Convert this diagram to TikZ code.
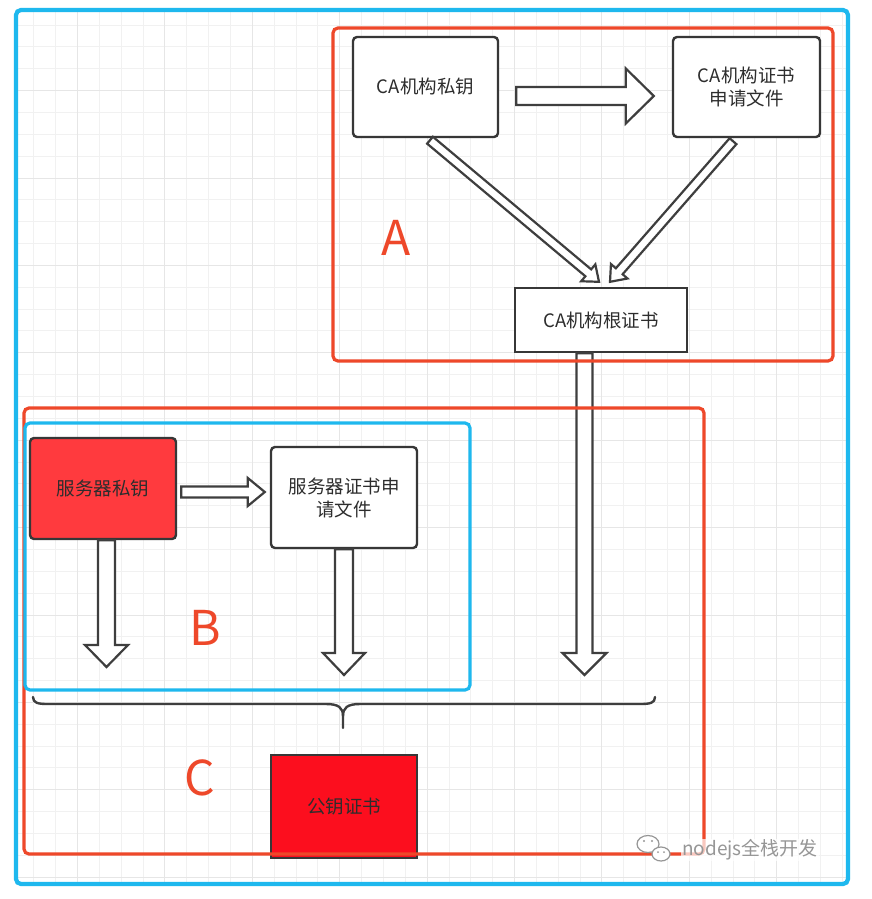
\documentclass[tikz,border=0pt]{standalone}
\usepackage{fontspec}
\setmainfont{Noto Sans CJK SC}
\usetikzlibrary{calc}

\definecolor{frameblue}{RGB}{30,184,238}
\definecolor{framered}{RGB}{238,72,42}
\definecolor{keyred}{RGB}{255,58,62}
\definecolor{certred}{RGB}{252,14,30}
\definecolor{boxline}{RGB}{55,55,55}
\definecolor{arrowgray}{RGB}{62,62,62}
\definecolor{textgray}{RGB}{45,45,45}
\definecolor{gridgray}{RGB}{241,241,241}
\definecolor{gridmajor}{RGB}{230,230,230}
\definecolor{wmgray}{RGB}{150,150,150}

% hollow block arrow: from, to, half shaft, half head, head length
\newcommand{\blockarrow}[5]{%
	\coordinate (hb) at ($(#2)!#5!(#1)$);
	\draw[hollow] ($(#1)!#3!90:(#2)$) -- ($(hb)!#3!-90:(#1)$) -- ($(hb)!#4!-90:(#1)$) -- (#2) -- ($(hb)!#4!90:(#1)$) -- ($(hb)!#3!90:(#1)$) -- ($(#1)!#3!-90:(#2)$) -- cycle;
}

\begin{document}
\begin{tikzpicture}[x=1pt, y=-1pt,
	box/.style={draw=boxline, line width=2.4pt, rounded corners=4pt, fill=white, text=textgray, align=center, inner sep=0pt, font=\fontsize{18.5}{23}\selectfont},
	sharpbox/.style={box, rounded corners=0pt},
	hollow/.style={draw=arrowgray, line width=2.2pt, fill=white, line join=miter},
	frame/.style={line width=3.2pt, rounded corners=5pt, inner sep=0pt},
	letter/.style={text=framered, font=\fontsize{48}{48}\selectfont},
	gridline/.style={draw=gridgray, line width=1pt},
	majorline/.style={draw=gridmajor, line width=1pt},
	bracket/.style={draw=arrowgray, line width=2.4pt, line cap=round}]
		\useasboundingbox (0,0) rectangle (871,899);
		\fill[white] (0,0) rectangle (871,899);
		\foreach \i in {1,...,38} \draw[gridline] ({12+21.85*\i},12) -- ({12+21.85*\i},882);
		\foreach \j in {1,...,40} \draw[gridline] (18,{3.2+21.85*\j}) -- (846,{3.2+21.85*\j});
		\foreach \i in {3,7,...,35} \draw[majorline] ({12+21.85*\i},12) -- ({12+21.85*\i},882);
		\foreach \j in {4,8,...,40} \draw[majorline] (18,{3.2+21.85*\j}) -- (846,{3.2+21.85*\j});

		\node at (425.5,87) [box, minimum width=145pt, minimum height=100pt] (caKey) {CA机构私钥};
		\node at (746.5,87) [box, minimum width=147pt, minimum height=100pt] (caReq) {CA机构证书\\申请文件};
		\node at (601,320) [sharpbox, minimum width=172pt, minimum height=64pt] (root) {CA机构根证书};
		\node at (103,488.5) [box, fill=keyred, minimum width=146pt, minimum height=101pt] (srvKey) {服务器私钥};
		\node at (344,497.5) [box, minimum width=146pt, minimum height=101pt] (srvReq) {服务器证书申\\请文件};
		\node at (344,806.5) [sharpbox, fill=certred, minimum width=146pt, minimum height=103pt] (pubCert) {公钥证书};

		\coordinate (keyOut) at ($(caKey.east)+(17,9)$);
		\coordinate (reqIn) at ($(caReq.west)+(-18,9)$);
		\blockarrow{keyOut}{reqIn}{9pt}{27.5pt}{28pt}
		\coordinate (keyDown) at ($(caKey.south)+(4.5,2)$);
		\coordinate (rootInL) at ($(root.north)+(-2,-5)$);
		\blockarrow{keyDown}{rootInL}{4.5pt}{11pt}{14pt}
		\coordinate (reqDown) at ($(caReq.south)+(-13.5,3)$);
		\coordinate (rootInR) at ($(root.north)+(9,-5)$);
		\blockarrow{reqDown}{rootInR}{4.5pt}{11pt}{14pt}
		\coordinate (rootOut) at ($(root.south)+(-16.5,0)$);
		\coordinate (rootEnd) at (584.5,675);
		\blockarrow{rootOut}{rootEnd}{8pt}{22pt}{22pt}

		\coordinate (srvOut) at ($(srvKey.east)+(4,3.5)$);
		\coordinate (srvIn) at ($(srvReq.west)+(-5,-5.5)$);
		\blockarrow{srvOut}{srvIn}{5.5pt}{14pt}{17pt}
		\coordinate (srvKeyOut) at ($(srvKey.south)+(3.5,0)$);
		\coordinate (srvKeyEnd) at (106.5,667);
		\blockarrow{srvKeyOut}{srvKeyEnd}{8.5pt}{21.5pt}{22pt}
		\coordinate (srvReqEnd) at (344,675);
		\blockarrow{srvReq.south}{srvReqEnd}{9pt}{21pt}{22pt}

		\coordinate (braceL) at (33,697);
		\coordinate (braceR) at (655,697);
		\coordinate (braceTip) at (343,728);
		\draw[bracket] (braceL) .. controls (33,703) and (38,704) .. (48,704) -- (326,704) .. controls (339,704) and (343,708) .. (343,716) -- (braceTip);
		\draw[bracket] (343,716) .. controls (343,708) and (347,704) .. (360,704) -- (640,704) .. controls (650,704) and (655,703) .. (braceR);

		\node at (583,194.5) [frame, draw=framered, minimum width=500pt, minimum height=333pt] (frameA) {};
		\node at (364,631) [frame, draw=framered, minimum width=680pt, minimum height=446pt] (frameC) {};
		\node at (247.5,556.5) [frame, draw=frameblue, minimum width=445pt, minimum height=267pt] (frameB) {};
		\node at (432,447) [frame, draw=frameblue, line width=4.2pt, minimum width=832pt, minimum height=874pt] (outer) {};

		\node at (396,238) [letter] (labelA) {A};
		\node at (205,628) [letter] (labelB) {B};
		\node at (200,778) [letter] (labelC) {C};

		\node at (750,850) [fill=white, fill opacity=0.7, text opacity=1, inner sep=1pt, text=wmgray, font=\fontsize{19}{22}\selectfont] (wmText) {nodejs全栈开发};
		\draw[draw=wmgray, fill=white, line width=1.2pt] (648,844) ellipse [x radius=11pt, y radius=8.5pt];
		\draw[draw=wmgray, fill=white, line width=1.2pt] (661,854) ellipse [x radius=9pt, y radius=7pt];
		\fill[wmgray] (644,841) circle [radius=1.2pt] (652,841) circle [radius=1.2pt] (658,852) circle [radius=1pt] (664,852) circle [radius=1pt];
\end{tikzpicture}
\end{document}
